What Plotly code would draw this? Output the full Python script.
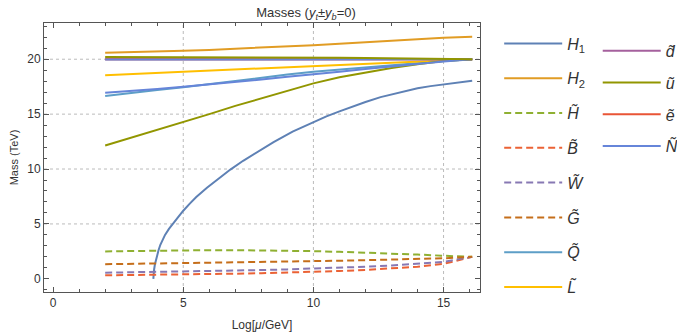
import plotly.graph_objects as go

# ---------------- data ----------------
x_common = [2, 3, 4, 5, 6, 7, 8, 9, 10, 11, 12, 13, 14, 15, 16.1]

x_H1 = [3.85, 3.86, 3.88, 3.91, 3.95, 4.0, 4.05, 4.12, 4.2, 4.3, 4.45, 4.63, 4.8, 5.0, 5.25, 5.5,
        5.91, 6.4, 6.81, 7.3, 7.83, 8.47, 9.2, 10.0, 10.5, 11.0, 11.5, 12.0, 12.58, 13.0,
        13.5, 14.0, 14.5, 15.0, 15.5, 16.1]
y_H1 = [0.0, 0.45, 0.85, 1.3, 1.75, 2.2, 2.6, 3.1, 3.55, 4.0, 4.55, 5.1, 5.65, 6.2, 6.85, 7.45,
        8.3, 9.2, 9.95, 10.75, 11.55, 12.45, 13.4, 14.3, 14.8, 15.25, 15.7, 16.1, 16.55, 16.8,
        17.1, 17.35, 17.55, 17.72, 17.88, 18.05]

y_H2 = [20.58, 20.63, 20.7, 20.77, 20.85, 20.95, 21.05, 21.15, 21.28, 21.42, 21.56, 21.7, 21.83, 21.95, 22.04]
y_Hino = [2.5, 2.54, 2.57, 2.6, 2.61, 2.61, 2.6, 2.57, 2.52, 2.46, 2.39, 2.31, 2.21, 2.1, 2.0]
y_Bino = [0.32, 0.34, 0.37, 0.4, 0.43, 0.47, 0.51, 0.56, 0.63, 0.71, 0.81, 0.93, 1.1, 1.36, 2.0]
y_Wino = [0.56, 0.59, 0.62, 0.66, 0.7, 0.75, 0.8, 0.86, 0.93, 1.01, 1.1, 1.21, 1.35, 1.55, 2.0]
y_Gluino = [1.33, 1.36, 1.39, 1.43, 1.46, 1.5, 1.54, 1.57, 1.61, 1.65, 1.7, 1.75, 1.8, 1.87, 2.0]
y_Q = [16.65, 16.95, 17.2, 17.45, 17.75, 18.05, 18.35, 18.6, 18.85, 19.05, 19.3, 19.5, 19.7, 19.85, 20.0]
y_L = [18.55, 18.65, 18.75, 18.85, 18.95, 19.05, 19.15, 19.25, 19.35, 19.45, 19.57, 19.68, 19.8, 19.9, 20.0]
y_d = [20.0, 20.0, 20.0, 20.0, 20.0, 20.0, 20.0, 20.0, 20.0, 20.0, 20.0, 20.0, 20.0, 20.0, 20.0]
y_u = [12.15, 12.85, 13.55, 14.3, 15.0, 15.75, 16.45, 17.15, 17.8, 18.35, 18.8, 19.2, 19.55, 19.83, 20.0]
y_u_flat = [20.2, 20.2, 20.2, 20.2, 20.2, 20.19, 20.18, 20.17, 20.16, 20.14, 20.12, 20.09, 20.06, 20.03, 20.0]
y_e = [20.0, 20.0, 20.0, 20.0, 20.0, 20.0, 20.0, 20.0, 20.0, 20.0, 20.0, 20.0, 20.0, 20.0, 20.0]
y_N = [16.94, 17.15, 17.3, 17.5, 17.7, 17.95, 18.15, 18.4, 18.6, 18.85, 19.1, 19.35, 19.6, 19.8, 20.0]
y_N_flat = [19.97, 19.97, 19.97, 19.97, 19.97, 19.97, 19.97, 19.97, 19.97, 19.97, 19.98, 19.98, 19.99, 19.99, 20.0]

x_ticks = [0, 5, 10, 15]
y_ticks = [0, 5, 10, 15, 20]
x_grid = [5, 10, 15]
y_grid = [5, 10, 15, 20]

# ---------------- figure ----------------
FONT = "Liberation Sans, Arial, sans-serif"
DASH = "7px,4px"

series = [
    ("<i>H</i><sub>1</sub>", x_H1, y_H1, "#5E81B5", "solid", "legend"),
    ("<i>H</i><sub>2</sub>", x_common, y_H2, "#E19C24", "solid", "legend"),
    ("<i>H\u0303</i>", x_common, y_Hino, "#8FB032", DASH, "legend"),
    ("<i>B\u0303</i>", x_common, y_Bino, "#EB6235", DASH, "legend"),
    ("<i>W\u0303</i>", x_common, y_Wino, "#8778B3", DASH, "legend"),
    ("<i>G\u0303</i>", x_common, y_Gluino, "#C56E1A", DASH, "legend"),
    ("<i>Q\u0303</i>", x_common, y_Q, "#5D9EC7", "solid", "legend"),
    ("<i>L\u0303</i>", x_common, y_L, "#FFBF00", "solid", "legend"),
    ("<i>d\u0303</i>", x_common, y_d, "#A5609D", "solid", "legend2"),
    ("<i>\u0169</i>", x_common, y_u, "#929600", "solid", "legend2"),
    ("<i>\u1EBD</i>", x_common, y_e, "#E95536", "solid", "legend2"),
    ("<i>\u00D1</i>", x_common, y_N, "#6685D9", "solid", "legend2"),
]

fig = go.Figure()
for i, (name, xs, ys, col, dash, leg) in enumerate(series):
    fig.add_trace(go.Scatter(
        x=xs, y=ys, mode="lines", name=name,
        line=dict(color=col, width=2, dash=dash),
        legend=leg, legendgroup="g%d" % i,
    ))
# extra unlabelled curves near 20 TeV
fig.add_trace(go.Scatter(x=x_common, y=y_N_flat, mode="lines", showlegend=False,
                         line=dict(color="#6685D9", width=2)))
fig.add_trace(go.Scatter(x=x_common, y=y_u_flat, mode="lines", showlegend=False,
                         line=dict(color="#929600", width=2)))

shapes = []
for gx in x_grid:
    shapes.append(dict(type="line", xref="x", yref="paper", x0=gx, x1=gx, y0=0, y1=1,
                       line=dict(color="#BBBBBB", width=1, dash="dot"), layer="below"))
for gy in y_grid:
    shapes.append(dict(type="line", xref="paper", yref="y", x0=0, x1=1, y0=gy, y1=gy,
                       line=dict(color="#BBBBBB", width=1, dash="dot"), layer="below"))

axis_common = dict(
    showline=True, linecolor="#555555", linewidth=1, mirror="allticks",
    ticks="inside", ticklen=5, tickcolor="#555555", tickwidth=1,
    showgrid=False, zeroline=False, automargin=False,
    tickfont=dict(family=FONT, size=12, color="#333333"),
)

fig.update_layout(
    width=677, height=332,
    margin=dict(l=44, r=197, t=23, b=40, autoexpand=False),
    paper_bgcolor="white", plot_bgcolor="white",
    font=dict(family=FONT, color="#333333"),
    title=dict(text="Masses (<i>y</i><sub><i>t</i></sub>\u00B1<i>y</i><sub><i>b</i></sub>=0)",
               x=(44 + 262) / 677, xanchor="center", y=0.962, yanchor="middle",
               font=dict(family=FONT, size=13, color="#333333")),
    xaxis=dict(range=[-0.35, 16.4], tickvals=x_ticks,
               minor=dict(ticks="inside", dtick=1, tick0=0, ticklen=3, tickcolor="#555555"),
               title=dict(text="Log[<i>\u03bc</i>/GeV]", standoff=11,
                          font=dict(family=FONT, size=12, color="#333333")),
               **axis_common),
    yaxis=dict(range=[-1.2, 23.3], tickvals=y_ticks,
               minor=dict(ticks="inside", dtick=1, tick0=0, ticklen=3, tickcolor="#555555"),
               title=dict(text="Mass (TeV)", standoff=6,
                          font=dict(family=FONT, size=11, color="#333333")),
               **axis_common),
    shapes=shapes,
    legend=dict(x=1.044, y=0.987, xanchor="left", yanchor="top", maxheight=330,
                font=dict(family=FONT, size=16, color="#333333"),
                tracegroupgap=11, bgcolor="rgba(0,0,0,0)", itemwidth=58),
    legend2=dict(x=1.27, y=0.96, xanchor="left", yanchor="top", maxheight=330,
                 font=dict(family=FONT, size=16, color="#333333"),
                 tracegroupgap=8, bgcolor="rgba(0,0,0,0)", itemwidth=58),
)

fig.write_html("out.html", config={"displayModeBar": False},
               post_script="document.body.style.margin='0';")
